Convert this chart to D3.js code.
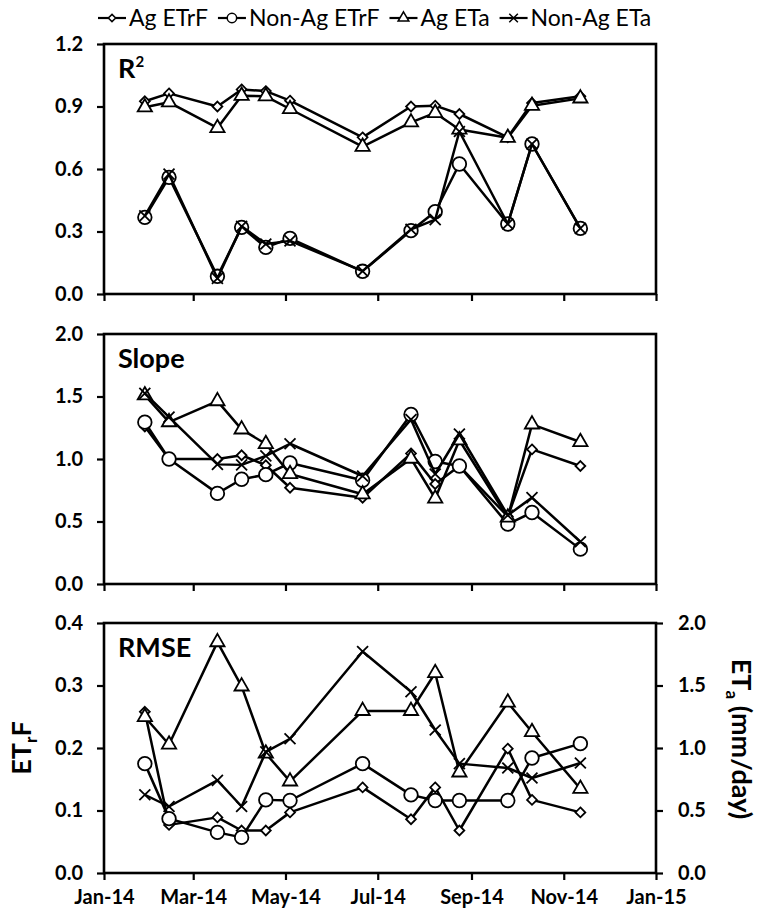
<!DOCTYPE html>
<html><head><meta charset="utf-8">
<script src="https://cdn.jsdelivr.net/npm/d3@7"></script>
<style>body{margin:0;background:#fff} svg text{font-family:Lato,"Open Sans",sans-serif;fill:#000}</style>
</head><body><svg id="c" width="758" height="913"></svg>
<script>
const dates = ["2014-01-28","2014-02-13","2014-03-17","2014-04-02","2014-04-18","2014-05-04","2014-06-21","2014-07-23","2014-08-08","2014-08-24","2014-09-25","2014-10-11","2014-11-12"];
const seriesNames = ["Ag ETrF","Non-Ag ETrF","Ag ETa","Non-Ag ETa"];
const seriesSymbols = ["diamond","circle","triangle","times"];
const xTickLabels = ["Jan-14","Mar-14","May-14","Jul-14","Sep-14","Nov-14","Jan-15"];
const xTickDates = ["2014-01-01","2014-03-01","2014-05-01","2014-07-01","2014-09-01","2014-11-01","2015-01-01"];

// R2 panel
const r2AgETrF    = [0.925,0.963,0.900,0.982,0.974,0.928,0.752,0.900,0.904,0.864,0.752,0.917,0.949];
const r2NonAgETrF = [0.368,0.560,0.085,0.320,0.224,0.267,0.109,0.304,0.395,0.624,0.336,0.720,0.315];
const r2AgETa     = [0.896,0.920,0.797,0.952,0.949,0.888,0.707,0.824,0.869,0.790,0.750,0.904,0.939];
const r2NonAgETa  = [0.375,0.575,0.075,0.325,0.240,0.255,0.110,0.310,0.357,0.780,0.336,0.720,0.315];
const r2Ticks = [0,0.3,0.6,0.9,1.2];

// Slope panel
const slAgETrF    = [1.260,1.000,1.000,1.030,0.950,0.770,0.690,1.045,0.800,0.944,0.540,1.077,0.944];
const slNonAgETrF = [1.295,1.000,0.725,0.838,0.875,0.968,0.830,1.356,0.980,0.944,0.479,0.572,0.279];
const slAgETa     = [1.510,1.295,1.463,1.237,1.120,0.880,0.718,1.003,0.684,1.150,0.532,1.277,1.136];
const slNonAgETa  = [1.525,1.335,0.957,0.953,1.025,1.122,0.864,1.316,0.880,1.200,0.550,0.691,0.338];
const slTicks = [0,0.5,1.0,1.5,2.0];

// RMSE panel (ETrF on left axis, ETa in mm/day on right axis)
const rmAgETrF    = [0.258,0.077,0.089,0.068,0.068,0.097,0.137,0.086,0.137,0.068,0.199,0.117,0.097];
const rmNonAgETrF = [0.175,0.087,0.065,0.057,0.117,0.116,0.175,0.125,0.116,0.116,0.116,0.184,0.207];
const rmAgETa     = [1.248,1.028,1.847,1.493,0.956,0.733,1.297,1.297,1.600,0.805,1.364,1.128,0.674];
const rmNonAgETa  = [0.626,0.532,0.741,0.532,0.969,1.074,1.772,1.450,1.144,0.875,0.840,0.760,0.880];
const rmLeftTicks = [0,0.1,0.2,0.3,0.4];
const rmRightTicks = [0,0.5,1.0,1.5,2.0];

const svg = d3.select("#c");
const parse = d3.timeParse("%Y-%m-%d");
const L = 104, R = 656;
const x = d3.scaleTime().domain([parse("2014-01-01"), parse("2015-01-01")]).range([L, R]);
const xd = dates.map(parse);
const symTypes = {diamond:d3.symbolDiamond2, circle:d3.symbolCircle, triangle:d3.symbolTriangle, times:d3.symbolTimes};
const symSizes = {diamond:62, circle:145, triangle:88, times:80};

function panel(top, h, domain, ticks, title, series, opts={}){
  const y = d3.scaleLinear().domain(domain).range([top+h, top]);
  const g = svg.append("g");
  const xa = g.append("g").attr("transform",`translate(0,${top+h})`)
    .call(d3.axisBottom(x).tickValues(xTickDates.map(parse)).tickSize(7).tickSizeOuter(0)
      .tickFormat((d,i)=> opts.xlabels ? xTickLabels[i] : ""));
  xa.selectAll("text").attr("font-size",20).attr("font-weight","bold").attr("dy","1.05em");
  const ya = g.append("g").attr("transform",`translate(${L},0)`)
    .call(d3.axisLeft(y).tickValues(ticks).tickFormat(d3.format(".1f")).tickSize(7).tickSizeOuter(0).tickPadding(14));
  ya.selectAll("text").attr("font-size",20).attr("font-weight","bold");
  let y2 = null;
  if (opts.right){
    y2 = d3.scaleLinear().domain(opts.right.domain).range([top+h, top]);
    const ra = g.append("g").attr("transform",`translate(${R},0)`)
      .call(d3.axisRight(y2).tickValues(opts.right.ticks).tickFormat(d3.format(".1f")).tickSize(7).tickSizeOuter(0).tickPadding(15));
    ra.selectAll("text").attr("font-size",20).attr("font-weight","bold");
  }
  g.selectAll(".domain").remove();
  g.selectAll(".tick line").attr("stroke","#000").attr("stroke-width",2.2);
  g.append("rect").attr("x",L).attr("y",top).attr("width",R-L).attr("height",h)
    .attr("fill","none").attr("stroke","#000").attr("stroke-width",2.6);
  const t = g.append("text").attr("x",L+14).attr("y",top+34).attr("font-size",27).attr("font-weight","bold");
  if (title === "R2"){ t.text("R"); t.append("tspan").attr("font-size",15).attr("dy",-11).text("2"); }
  else t.text(title);
  series.forEach((s,k)=>{
    const yy = (opts.right && (k===2||k===3)) ? y2 : y;
    const line = d3.line().x((d,i)=>x(xd[i])).y(d=>yy(d));
    g.append("path").attr("d",line(s)).attr("fill","none").attr("stroke","#000").attr("stroke-width",2.5).attr("stroke-linejoin","round");
    const st = seriesSymbols[k];
    g.selectAll(null).data(s).enter().append("path")
      .attr("d",d3.symbol().type(symTypes[st]).size(symSizes[st])())
      .attr("transform",(d,i)=>`translate(${x(xd[i])},${yy(d)})`)
      .attr("fill", st==="times" ? "none" : "#fff")
      .attr("stroke","#000").attr("stroke-width",1.8);
  });
}

panel(44, 250, [0,1.2], r2Ticks, "R2", [r2AgETrF,r2NonAgETrF,r2AgETa,r2NonAgETa]);
panel(334, 250, [0,2.0], slTicks, "Slope", [slAgETrF,slNonAgETrF,slAgETa,slNonAgETa]);
panel(623, 250, [0,0.4], rmLeftTicks, "RMSE", [rmAgETrF,rmNonAgETrF,rmAgETa,rmNonAgETa],
  {xlabels:true, right:{domain:[0,2.0], ticks:rmRightTicks}});

// axis titles
const lt = svg.append("text").attr("transform","translate(31,748) rotate(-90)").attr("text-anchor","middle")
  .attr("font-size",27).attr("font-weight","bold");
lt.append("tspan").text("ET"); lt.append("tspan").attr("font-size",17).attr("dy",6).text("r");
lt.append("tspan").attr("dy",-6).text("F");
const rt = svg.append("text").attr("transform","translate(732,739) rotate(90)").attr("text-anchor","middle")
  .attr("font-size",27).attr("font-weight","bold");
rt.append("tspan").text("ET"); rt.append("tspan").attr("font-size",17).attr("dy",6).text("a");
rt.append("tspan").attr("dy",-6).text(" (mm/day)");

// legend
let lx = 98;
const ly = 18;
seriesNames.forEach((n,k)=>{
  const st = seriesSymbols[k];
  const g = svg.append("g");
  g.append("line").attr("x1",lx).attr("x2",lx+28).attr("y1",ly).attr("y2",ly).attr("stroke","#000").attr("stroke-width",2.2);
  g.append("path").attr("d",d3.symbol().type(symTypes[st]).size([34,70,50,50][k])())
    .attr("transform",`translate(${lx+14},${ly})`).attr("fill",st==="times"?"none":"#fff").attr("stroke","#000").attr("stroke-width",1.5);
  const t = g.append("text").attr("x",lx+31).attr("y",ly+8).attr("font-size",23).text(n);
  lx += 31 + t.node().getComputedTextLength() + 10;
});
</script></body></html>
